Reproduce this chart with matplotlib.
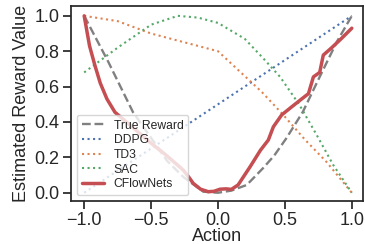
import numpy as np
import matplotlib
matplotlib.use("Agg")
import matplotlib.pyplot as plt
import seaborn as sns

sns.set_theme(style="ticks")
plt.rcParams['font.family'] = ['Liberation Sans', 'DejaVu Sans']

# valores
x_true = [-1.0, -0.82, -0.635, -0.5, -0.38, -0.26, -0.11, 0.0, 0.1, 0.215, 0.338, 0.42, 0.51, 0.634, 0.76, 0.888, 1.0]
y_true = [1.0, 0.74, 0.455, 0.31, 0.18, 0.09, 0.006, 0.0, 0.012, 0.044, 0.14, 0.21, 0.307, 0.457, 0.655, 0.853, 1.0]

x_ddpg = [-1.0, 1.0]
y_ddpg = [0.0, 1.0]

x_td3 = [-1.0, -0.75, -0.5, -0.3, -0.25, 0.0, 0.327, 0.488, 0.65, 0.81, 1.0]
y_td3 = [1.0, 0.97, 0.9, 0.86, 0.85, 0.8, 0.57, 0.44, 0.3, 0.175, 0.0]

x_sac = [-1.0, -0.75, -0.5, -0.3, -0.15, 0.0, 0.2, 0.338, 0.464, 0.61, 0.738, 0.862, 1.0]
y_sac = [0.68, 0.82, 0.95, 1.0, 0.99, 0.96, 0.87, 0.76, 0.655, 0.495, 0.326, 0.156, 0.0]

x_cfn = [-1.0, -0.96, -0.92, -0.88, -0.83, -0.77, -0.7, -0.6, -0.5, -0.4, -0.3, -0.26, -0.22,
         -0.185, -0.13, -0.073, -0.03, 0.015, 0.06, 0.10, 0.15, 0.24, 0.317, 0.376, 0.414,
         0.476, 0.55, 0.62, 0.676, 0.713, 0.76, 0.787, 0.85, 0.92, 1.0]
y_cfn = [1.0, 0.83, 0.72, 0.62, 0.53, 0.455, 0.41, 0.345, 0.28, 0.22, 0.155, 0.128, 0.09,
         0.053, 0.02, 0.006, 0.008, 0.02, 0.022, 0.019, 0.044, 0.147, 0.24, 0.298, 0.373,
         0.44, 0.485, 0.527, 0.56, 0.655, 0.68, 0.778, 0.82, 0.87, 0.93]

fig, ax = plt.subplots(figsize=(3.65, 2.44), dpi=100)

ax.plot(x_true, y_true, color='gray', ls='--', lw=1.7, label='True Reward')
ax.plot(x_ddpg, y_ddpg, color='#4c72b0', ls=':', lw=1.5, label='DDPG')
ax.plot(x_td3, y_td3, color='#dd8452', ls=':', lw=1.5, label='TD3')
ax.plot(x_sac, y_sac, color='#55a868', ls=':', lw=1.5, label='SAC')
ax.plot(x_cfn, y_cfn, color='#c44e52', ls='-', lw=2.5, label='CFlowNets')

ax.set_xlabel('Action', fontsize=13, labelpad=-1)
ax.set_ylabel('Estimated Reward Value', fontsize=13, labelpad=3)
ax.tick_params(labelsize=13, pad=2)
ax.set_xticks([-1.0, -0.5, 0.0, 0.5, 1.0])
ax.set_yticks([0.0, 0.2, 0.4, 0.6, 0.8, 1.0])
ax.set_xlim(-1.1, 1.085)
ax.set_ylim(-0.047, 1.055)
ax.legend(loc='lower left', fontsize=8.7, handlelength=1.85, labelspacing=0.22)

plt.subplots_adjust(left=0.194, right=0.995, top=0.975, bottom=0.176)
plt.savefig('out.png', dpi=100)
